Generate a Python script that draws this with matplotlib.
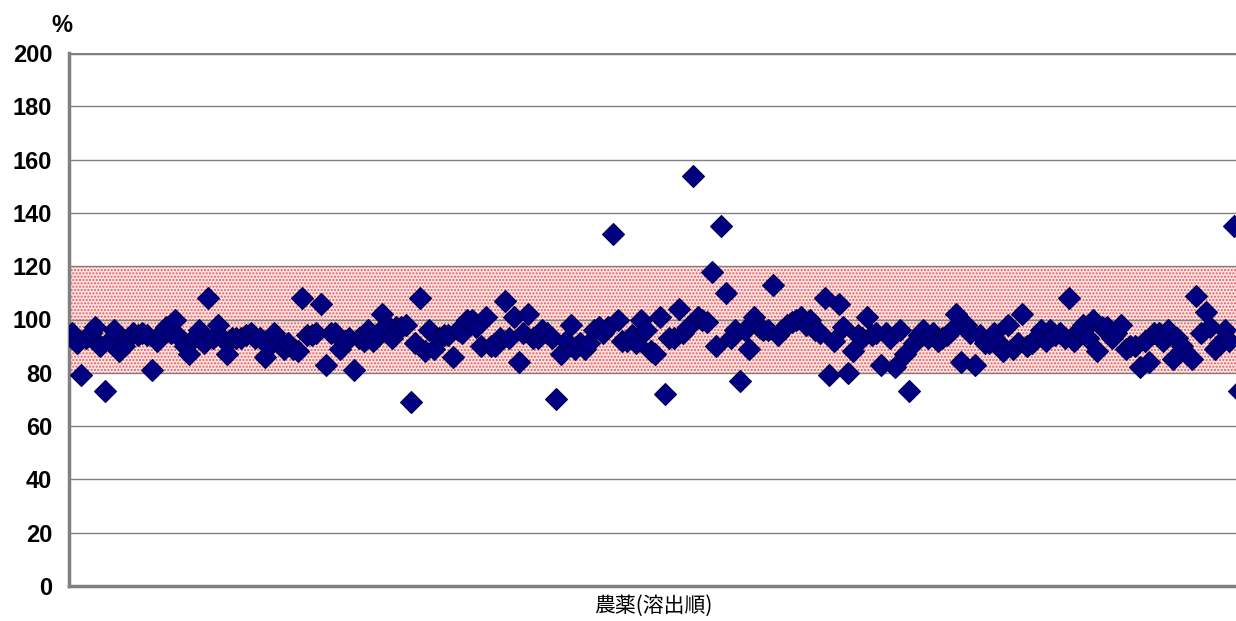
import matplotlib
matplotlib.use("Agg")
import matplotlib.pyplot as plt
import numpy as np

recovery = [
    95, 91, 79, 93, 95, 97, 90, 73, 92, 96, 88, 90, 93, 95, 94, 95, 94, 81, 92, 95,
    97, 95, 100, 93, 90, 87, 93, 96, 91, 108, 93, 98, 93, 87, 93, 93, 93, 94, 95, 93,
    93, 86, 90, 95, 92, 89, 91, 89, 88, 108, 94, 94, 95, 106, 83, 95, 95, 89, 92, 93,
    81, 93, 92, 96, 92, 95, 102, 98, 93, 97, 97, 98, 69, 91, 108, 88, 96, 89, 93, 94,
    94, 86, 96, 95, 100, 100, 97, 90, 101, 90, 90, 93, 107, 93, 101, 84, 95, 102, 93, 93,
    96, 95, 93, 70, 87, 92, 98, 89, 91, 89, 91, 96, 97, 95, 97, 132, 100, 92, 92, 94,
    91, 100, 96, 88, 87, 101, 72, 93, 93, 104, 95, 97, 154, 101, 100, 99, 118, 90, 135, 110,
    93, 96, 77, 96, 89, 101, 97, 96, 96, 113, 94, 96, 98, 99, 100, 101, 98, 100, 96, 95,
    108, 79, 92, 106, 97, 80, 88, 94, 93, 101, 94, 95, 83, 95, 93, 82, 96, 87, 73, 91,
    94, 96, 93, 95, 92, 93, 94, 96, 102, 84, 98, 95, 83, 94, 91, 91, 95, 91, 88, 98,
    89, 91, 102, 90, 91, 93, 96, 92, 96, 94, 95, 93, 108, 92, 96, 98, 93, 100, 88, 97,
    97, 93, 95, 98, 89, 90, 90, 82, 92, 84, 95, 95, 92, 96, 85, 93, 90, 87, 85, 109,
    95, 103, 97, 89, 91, 96, 92, 135, 73,
]
y_ticks = [0, 20, 40, 60, 80, 100, 120, 140, 160, 180, 200]
band_low, band_high = 80, 120
x_label = "農薬(溶出順)"
y_unit = "%"

plt.rcParams['font.family'] = ['Liberation Sans', 'Noto Sans CJK JP', 'DejaVu Sans']

W, H = 1236, 621
fig = plt.figure(figsize=(W / 100, H / 100), dpi=100)
left = 69 / W
bottom = (H - 586) / H
top = (H - 53) / H
ax = fig.add_axes([left, bottom, 1.0 - left + 0.001, top - bottom])

n = len(recovery)
x = np.arange(n)

ax.axhspan(band_low, band_high, facecolor='#fde4e4', edgecolor='#e35a5a',
           hatch='.....', linewidth=0, zorder=0)

ax.plot(x, recovery, linestyle='none', marker='D', markersize=11.5,
        markerfacecolor='#000080', markeredgecolor='#00005a', markeredgewidth=0.8,
        zorder=3, clip_on=True)

ax.set_ylim(0, 200)
ax.set_xlim(-0.6, n - 1.3)
ax.set_yticks(y_ticks)
ax.set_yticklabels([str(t) for t in y_ticks], fontsize=17, fontweight='bold')
ax.set_xticks([])
for t in y_ticks[1:]:
    ax.axhline(t, color='#808080', linewidth=1.0 if t < 200 else 2.5, zorder=1)

ax.tick_params(axis='y', length=0, pad=12)
ax.spines['right'].set_visible(False)
ax.spines['top'].set_visible(False)
ax.spines['left'].set_color('#808080')
ax.spines['left'].set_linewidth(2.5)
ax.spines['bottom'].set_color('#808080')
ax.spines['bottom'].set_linewidth(2.5)

fig.text(62 / W, 1 - 25 / H, y_unit, fontsize=17, fontweight='bold',
         ha='center', va='center')
fig.text(653 / W, 1 - 606 / H, x_label, fontsize=15, ha='center', va='center',
         family=['Noto Sans CJK JP', 'DejaVu Sans'])

fig.savefig('out.png', dpi=100)
